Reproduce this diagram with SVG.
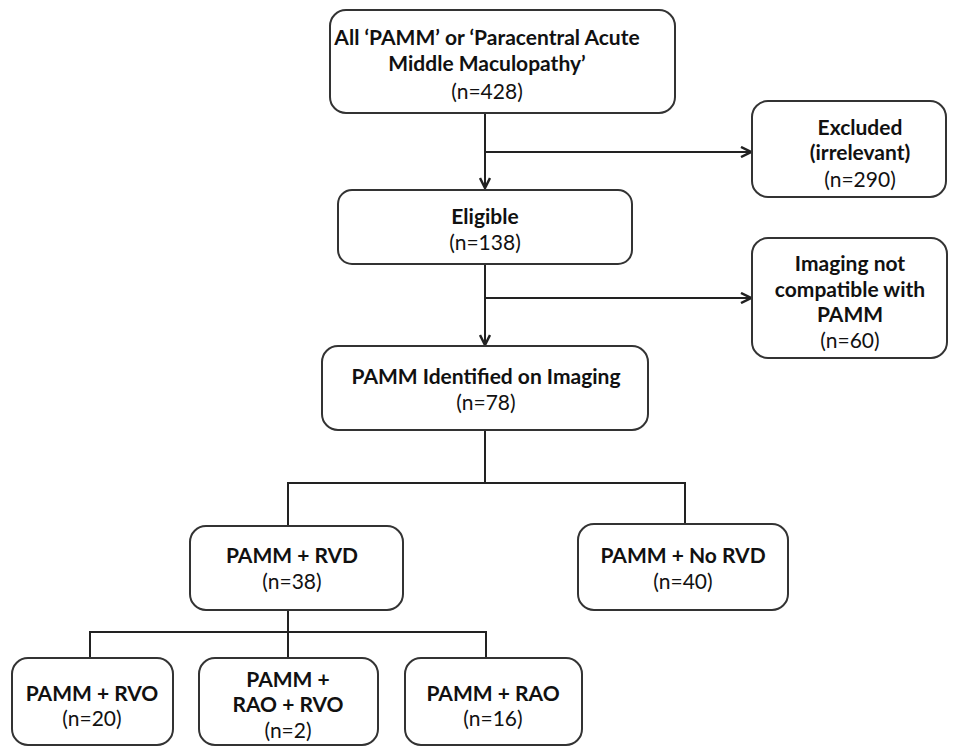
<svg xmlns="http://www.w3.org/2000/svg" width="955" height="748" viewBox="0 0 955 748">
<style>
.box{fill:#fff;stroke:#333;stroke-width:2}
.ln{fill:none;stroke:#222;stroke-width:2}
text{font-family:Lato,"Liberation Sans",sans-serif;font-size:21px;fill:#111;text-anchor:middle}
.b{font-weight:bold}
</style>
<defs>
<marker id="ah" viewBox="0 0 12 12" refX="11" refY="6" markerWidth="12" markerHeight="12" markerUnits="userSpaceOnUse" orient="auto">
<path d="M1,1 L11,6 L1,11" fill="none" stroke="#222" stroke-width="2.5"/>
</marker>
</defs>
<g id="connectors">
<path class="ln" d="M485,113 V188" marker-end="url(#ah)"/>
<path class="ln" d="M485,152 H751" marker-end="url(#ah)"/>
<path class="ln" d="M485,264 V345" marker-end="url(#ah)"/>
<path class="ln" d="M485,298 H751" marker-end="url(#ah)"/>
<path class="ln" d="M485,430 V483 M288,526 V483 H685 V524"/>
<path class="ln" d="M288,610 V658 M90,658 V632 H486 V658"/>
</g>
<g id="n_all">
<rect class="box" x="330" y="10" width="345" height="103" rx="16"/>
<text class="b" x="487" y="45">All ‘PAMM’ or ‘Paracentral Acute</text>
<text class="b" x="487" y="71">Middle Maculopathy’</text>
<text x="487" y="99">(n=428)</text>
</g>
<g id="n_excluded">
<rect class="box" x="752" y="101" width="194" height="96" rx="16"/>
<text class="b" x="860" y="135">Excluded</text>
<text class="b" x="860" y="160">(irrelevant)</text>
<text x="860" y="187">(n=290)</text>
</g>
<g id="n_eligible">
<rect class="box" x="338" y="190" width="294" height="74" rx="14"/>
<text class="b" x="485" y="224">Eligible</text>
<text x="485" y="250">(n=138)</text>
</g>
<g id="n_notcompat">
<rect class="box" x="752" y="238" width="195" height="120" rx="16"/>
<text class="b" x="850" y="271">Imaging not</text>
<text class="b" x="850" y="297">compatible with</text>
<text class="b" x="850" y="322">PAMM</text>
<text x="850" y="348">(n=60)</text>
</g>
<g id="n_identified">
<rect class="box" x="322" y="346" width="326" height="84" rx="16"/>
<text class="b" x="486" y="384">PAMM Identified on Imaging</text>
<text x="486" y="410">(n=78)</text>
</g>
<g id="n_rvd">
<rect class="box" x="190" y="526" width="213" height="84" rx="16"/>
<text class="b" x="292" y="563">PAMM + RVD</text>
<text x="292" y="589">(n=38)</text>
</g>
<g id="n_norvd">
<rect class="box" x="578" y="524" width="210" height="86" rx="16"/>
<text class="b" x="683" y="563">PAMM + No RVD</text>
<text x="683" y="589">(n=40)</text>
</g>
<g id="n_rvo">
<rect class="box" x="12" y="658" width="161" height="87" rx="16"/>
<text class="b" x="92" y="701">PAMM + RVO</text>
<text x="92" y="726">(n=20)</text>
</g>
<g id="n_raorvo">
<rect class="box" x="199" y="658" width="179" height="87" rx="16"/>
<text class="b" x="288" y="687">PAMM +</text>
<text class="b" x="288" y="712">RAO + RVO</text>
<text x="288" y="738">(n=2)</text>
</g>
<g id="n_rao">
<rect class="box" x="405" y="658" width="177" height="87" rx="16"/>
<text class="b" x="493" y="701">PAMM + RAO</text>
<text x="493" y="726">(n=16)</text>
</g>
</svg>
